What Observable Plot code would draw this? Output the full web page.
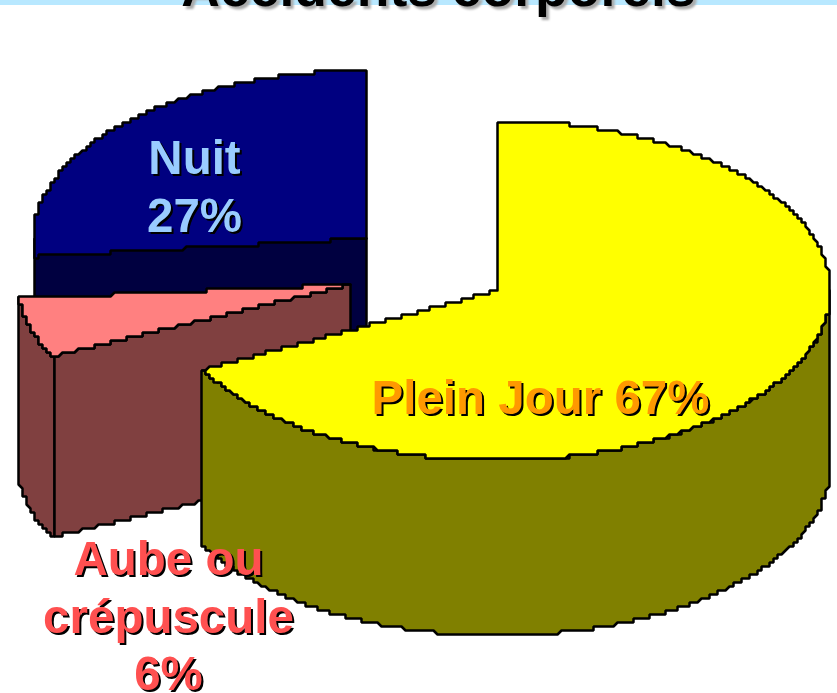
<!DOCTYPE html>
<html><head><meta charset="utf-8">
<style>html,body{margin:0;padding:0;background:#fff}svg{display:block}</style>
<script src="https://cdn.jsdelivr.net/npm/d3@7"></script>
<script src="https://cdn.jsdelivr.net/npm/@observablehq/plot@0.6"></script>
</head><body><div id="chart"></div>
<script>
const categories = ["Plein Jour", "Aube ou crépuscule", "Nuit"];
const shares = [67, 6, 27];
const labels = ["Plein Jour 67%", "Aube ou\ncrépuscule\n6%", "Nuit\n27%"];
const titleText = "Accidents corporels";

// styling and layout of each slice (screen units of the x/y scales)
const topColors = ["#ffff00", "#ff8080", "#000080"];
const sideColors = ["#808000", "#804040", "#000040"];
const textColors = ["#ff9900", "#ff5050", "#99ccff"];
const centers = [[497, 290], [350, 284], [366, 238]];
const radiiY = [170, 160, 168];
const depths = [175, 181, 175];
const turns = [1, 2.2, 1];
const labelOffsets = [[43, 105], [-182, 330], [-172, -54]];
const RX = 333;
const STEP = 4; // the source picture is a coarse bitmap: outlines sit on a pixel grid

// angles come from the shares, clockwise from 12 o'clock
const RAD = Math.PI / 180;
let run = 0;
const slices = categories.map((name, i) => {
  const a0 = run * 3.6 + (i ? turns[i] : 0), a1 = (run + shares[i]) * 3.6 + (i === 2 ? 0 : turns[i]);
  run += shares[i];
  const [cx, cy] = centers[i];
  const at = (t, dz = 0) => [cx + RX * Math.sin(t * RAD), cy - radiiY[i] * Math.cos(t * RAD) + dz];
  const arc = (from, to, dz = 0) => d3.range(0, 61).map(k => at(from + (to - from) * k / 60, dz));
  return {name, i, a0, a1, cx, cy, at, arc, h: depths[i]};
});

function ring(id, fill, s, pts) {
  const snapX = v => Math.round((v - s.cx) / STEP) * STEP + s.cx;
  const snapY = v => Math.round((v - s.cy) / STEP) * STEP + s.cy;
  const closed = [...pts, pts[0]];
  const out = [];
  for (let k = 0; k + 1 < closed.length; k++) {
    const [x0, y0] = closed[k], [x1, y1] = closed[k + 1];
    const n = Math.max(1, Math.ceil(Math.hypot(x1 - x0, y1 - y0)));
    for (let j = 0; j <= n; j++) {
      const x = snapX(x0 + (x1 - x0) * j / n), y = snapY(y0 + (y1 - y0) * j / n);
      const last = out[out.length - 1];
      if (!last || last.x !== x || last.y !== y) out.push({id, fill, x, y});
    }
  }
  return out;
}
const [day, dawn, night] = slices;

const polys = [
  // night: side wall then top
  ring("n-side", sideColors[2], night, [[night.cx, night.cy], [night.cx - RX, night.cy], [night.cx - RX, night.cy + night.h], [night.cx, night.cy + night.h]]),
  ring("n-top", topColors[2], night, [[night.cx, night.cy], ...night.arc(night.a0, night.a1)]),
  // dawn: outer wall, cut wall, top
  ring("a-outer", sideColors[1], dawn, [...dawn.arc(dawn.a0, dawn.a1), ...dawn.arc(dawn.a1, dawn.a0, dawn.h)]),
  ring("a-cut", sideColors[1], dawn, [dawn.at(dawn.a0), [dawn.cx, dawn.cy], [dawn.cx, dawn.cy + dawn.h], dawn.at(dawn.a0, dawn.h)]),
  ring("a-top", topColors[1], dawn, [[dawn.cx, dawn.cy], ...dawn.arc(dawn.a0, dawn.a1)]),
  // day: outer wall, top
  ring("d-outer", sideColors[0], day, [...day.arc(90, day.a1), ...day.arc(day.a1, 90, day.h)]),
  ring("d-top", topColors[0], day, [[day.cx, day.cy], ...day.arc(day.a0, day.a1)])
].flat();

const labelRows = slices.map((s, i) => ({
  text: labels[i], fill: textColors[i],
  x: s.cx + labelOffsets[i][0], y: s.cy + labelOffsets[i][1]
}));

const chart = Plot.plot({
  width: 837, height: 693,
  margin: 0,
  x: {domain: [0, 837], range: [0, 837], axis: null},
  y: {domain: [0, 693], range: [0, 693], axis: null},
  style: {background: "#fff", fontFamily: "'Liberation Sans', Arial, sans-serif"},
  marks: [
    Plot.rect([{}], {x1: () => 0, x2: () => 837, y1: () => 0, y2: () => 5, fill: "#b8e8ff"}),
    Plot.text([titleText], {
      x: () => 438, y: () => 5, text: d => d, fontSize: 53.5, fontWeight: "bold",
      fill: "#000", textAnchor: "middle", lineAnchor: "bottom",
      imageFilter: "drop-shadow(3px 3px 1px #aaa)"
    }),
    Plot.line(polys, {
      x: "x", y: "y", z: "id", fill: "fill", stroke: "#000", strokeWidth: 2.5,
      strokeLinejoin: "miter", curve: "linear", sort: null
    }),
    Plot.text(labelRows, {
      x: "x", y: "y", text: "text", fill: "fill",
      fontSize: 47.5, fontWeight: "bold", lineHeight: 1.21, textAnchor: "middle",
      imageFilter: "drop-shadow(2.5px 2.5px 0.5px #000)"
    })
  ]
});
document.getElementById("chart").append(chart);
</script></body></html>
